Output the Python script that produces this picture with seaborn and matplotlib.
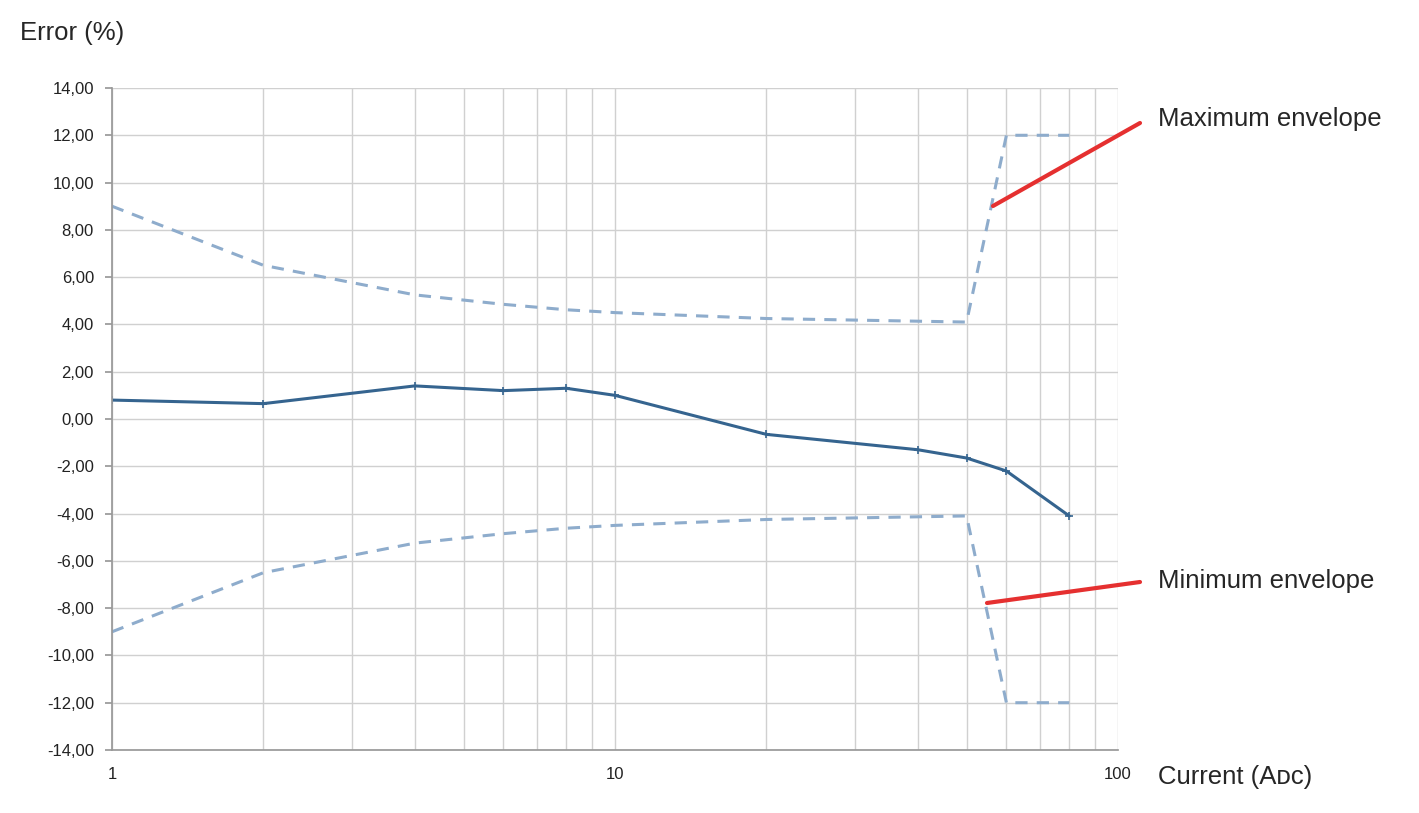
import matplotlib
matplotlib.use("Agg")
import matplotlib.pyplot as plt
import seaborn as sns
import numpy as np
from matplotlib.ticker import FixedLocator, FuncFormatter, LogLocator, NullFormatter

current = [1, 2, 4, 6, 8, 10, 20, 40, 50, 60, 80]
error = [0.8, 0.65, 1.4, 1.2, 1.3, 1.0, -0.65, -1.3, -1.65, -2.2, -4.1]
env_x = [1, 2, 4, 6, 8, 10, 20, 50, 60, 80]
env_max = [9.0, 6.5, 5.25, 4.85, 4.62, 4.5, 4.25, 4.1, 12.0, 12.0]
env_min = [-v for v in env_max]

sns.set_theme(style="white")
plt.rcParams['font.family'] = ['Liberation Sans', 'DejaVu Sans']

fig = plt.figure(figsize=(14.19, 8.13), dpi=100)
ax = fig.add_axes([112/1419, 1-750/813, (1118-112)/1419, (750-88)/813])

sns.lineplot(x=env_x, y=env_max, ax=ax, color="#8eaccc", lw=2.2, linestyle=(0, (4, 3)))
sns.lineplot(x=env_x, y=env_min, ax=ax, color="#8eaccc", lw=2.2, linestyle=(0, (4, 3)))
sns.lineplot(x=current, y=error, ax=ax, color="#35648f", lw=2.2, marker="+", markersize=6, mew=1.2, mec="#35648f")

ax.set_xscale("log")
ax.set_xlim(1, 100)
ax.set_ylim(-14, 14)
ax.yaxis.set_major_locator(FixedLocator(np.arange(-14, 15, 2)))
ax.yaxis.set_major_formatter(FuncFormatter(lambda v, p: f"{v:.2f}".replace(".", ",")))
ax.xaxis.set_major_locator(FixedLocator([1, 10, 100]))
ax.xaxis.set_major_formatter(FuncFormatter(lambda v, p: f"{int(v)}"))
ax.xaxis.set_minor_locator(LogLocator(base=10, subs=np.arange(2, 10)))
ax.xaxis.set_minor_formatter(NullFormatter())
ax.grid(True, which="both", color="#d0d0d0", lw=1)
ax.set_axisbelow(True)
for s in ["top", "right"]:
    ax.spines[s].set_visible(False)
for s in ["left", "bottom"]:
    ax.spines[s].set_color("#999999")
ax.tick_params(axis="both", labelsize=12, colors="#222222", length=0, pad=8)
ax.tick_params(axis="x", pad=12)
ax.tick_params(axis="y", left=True, length=5, color="#999999")
ax.set_xlabel(""); ax.set_ylabel("")

fs = 18.5
fig.text(20/1419, 1-33/813, "Error (%)", fontsize=fs, va="center", ha="left")
fig.text(1158/1419, 1-777/813, "Current (Aᴅᴄ)", fontsize=fs, va="center", ha="left",
         family=['Liberation Sans', 'DejaVu Sans'])
fig.text(1158/1419, 1-119/813, "Maximum envelope", fontsize=fs, va="center", ha="left")
fig.text(1158/1419, 1-581/813, "Minimum envelope", fontsize=fs, va="center", ha="left")
fig.add_artist(plt.Line2D([993/1419, 1140/1419], [1-206/813, 1-123/813], color="#e53030", lw=3))
fig.add_artist(plt.Line2D([987/1419, 1140/1419], [1-603/813, 1-582/813], color="#e53030", lw=3))

fig.savefig("out.png", dpi=100, facecolor="white")
